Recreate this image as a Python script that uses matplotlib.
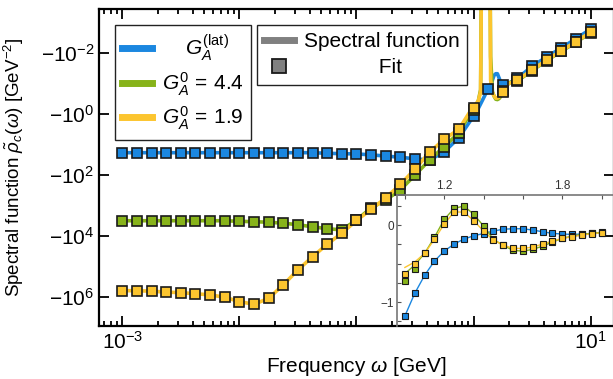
import numpy as np
import matplotlib
matplotlib.use("Agg")
import matplotlib.pyplot as plt
from matplotlib.ticker import LogLocator, NullLocator, NullFormatter
from matplotlib.lines import Line2D

plt.rcParams['font.family'] = ['Liberation Sans', 'DejaVu Sans']
plt.rcParams['mathtext.fontset'] = 'custom'
plt.rcParams['mathtext.rm'] = 'Liberation Sans'
plt.rcParams['mathtext.it'] = 'Liberation Sans:italic'
plt.rcParams['mathtext.bf'] = 'Liberation Sans:bold'

# frequency grid of the fit points (GeV), 1e-3 ... 10
omega = np.logspace(-3, 1, 33)

blue_fit = [-18.6, -18.6, -18.6, -18.6, -18.6, -18.6, -18.6, -18.6, -18.6, -18.6,
            -18.6, -18.6, -18.6, -18.6, -19.5, -20.0, -20.4, -21.9, -24.0, -26.3,
            -29.5, -32.4, -17.4, -6.0, -1.2, -0.155, -0.112, -0.068, -0.0275, -0.0135,
            -0.0069, -0.0034, -0.00166]
green_fit = [-3160, -3160, -3160, -3160, -3160, -3160, -3160, -3160, -3310, -3390,
             -3550, -3800, -4270, -5010, -5750, -6310, -3020, -1200, -661, -309,
             -100, -32.4, -11.7, -4.17, -0.727, 0.12, -0.18, -0.083, -0.038, -0.0178,
             -0.0089, -0.00447, -0.00219]
yellow_fit = [-6.2e5, -6.2e5, -6.46e5, -6.9e5, -7.2e5, -7.8e5, -8.5e5, -1.02e6, -1.41e6, -1.74e6,
              -1.10e6, -4.0e5, -1.29e5, -4.8e4, -1.86e4, -8.1e3, -3.1e3, -1.35e3, -562, -204,
              -64.6, -17.8, -6.8, -3.16, -0.646, 0.05, -0.186, -0.0776, -0.0363, -0.0170,
              -0.0085, -0.00427, -0.00209]

# resonance region (linear, inset)
omega_in = [1.00, 1.05, 1.10, 1.15, 1.20, 1.25, 1.30, 1.35, 1.40, 1.45, 1.50,
            1.55, 1.60, 1.65, 1.70, 1.75, 1.80, 1.85, 1.90, 1.95, 2.00]
blue_in = [-1.18, -0.887, -0.654, -0.468, -0.338, -0.247, -0.182, -0.139, -0.110, -0.078, -0.054,
           -0.048, -0.048, -0.065, -0.087, -0.108, -0.117, -0.121, -0.117, -0.108, -0.100]
green_in = [-0.727, -0.576, -0.368, -0.160, 0.074, 0.216, 0.247, 0.139, -0.013, -0.186, -0.264,
            -0.329, -0.338, -0.316, -0.273, -0.221, -0.173, -0.143, -0.121, -0.108, -0.095]
yellow_in = [-0.641, -0.511, -0.368, -0.186, 0.013, 0.169, 0.169, 0.056, -0.078, -0.195, -0.260,
             -0.303, -0.303, -0.286, -0.247, -0.208, -0.173, -0.152, -0.130, -0.113, -0.100]
# spectral function curves in the inset (differ from the fit at the lowest points)
green_in_line = [-0.63, -0.52] + green_in[2:]
yellow_in_line = [-0.55, -0.48] + yellow_in[2:]

BLUE = '#1b87e0'
GREEN = '#87b31a'
YELLOW = '#fcc52f'
EDGE = '#1a1a1a'

line_x = np.concatenate([omega[:24], omega_in, omega[27:]])
blue_line = np.concatenate([blue_fit[:24], blue_in, blue_fit[27:]])
green_line = np.concatenate([green_fit[:24], green_in_line, green_fit[27:]])
yellow_line = np.concatenate([yellow_fit[:24], yellow_in_line, yellow_fit[27:]])

fig = plt.figure(figsize=(6.13, 3.79), dpi=100)
ax = fig.add_axes([99 / 613, 1 - 326 / 379, 514.5 / 613, 317 / 379])

ax.plot(line_x, blue_line, color=BLUE, lw=2.6, zorder=2)
ax.plot(line_x, green_line, color=GREEN, lw=2.6, zorder=2)
ax.plot(line_x, yellow_line, color=YELLOW, lw=2.6, zorder=2)
for vals, col in [(blue_fit, BLUE), (green_fit, GREEN), (yellow_fit, YELLOW)]:
    ax.plot(omega, vals, ls='none', marker='s', ms=7, mfc=col, mec=EDGE, mew=1.2, zorder=3)

ax.set_xscale('log')
ax.set_yscale('symlog', linthresh=1e-5)
ax.set_xlim(6.32e-4, 15.7)
ax.set_ylim(-10 ** 6.95, -10 ** -3.44)

ax.set_xticks([1e-3, 1e-2, 1e-1, 1e0, 1e1])
ax.set_xticklabels(['$10^{-3}$', '', '', '', '$10^{1}$'])
ax.xaxis.set_minor_locator(LogLocator(base=10, subs=range(2, 10), numticks=30))
ax.xaxis.set_minor_formatter(NullFormatter())
ax.set_yticks([-1e-2, -1e0, -1e2, -1e4, -1e6])
ax.set_yticklabels(['$-10^{-2}$', '$-10^{0}$', '$-10^{2}$', '$-10^{4}$', '$-10^{6}$'])
ax.yaxis.set_minor_locator(NullLocator())
ax.tick_params(which='both', direction='in', top=True, right=True, labelsize=15, width=1.3)
ax.tick_params(which='major', length=7)
ax.tick_params(which='minor', length=3.5)
for s in ax.spines.values():
    s.set_linewidth(1.6)

ax.set_xlabel(r'Frequency $\omega$ [GeV]', fontsize=15, labelpad=1.5)
ax.set_ylabel(r'Spectral function $\tilde{\rho}_c(\omega)$ [GeV$^{-2}$]', fontsize=13.5)
ax.yaxis.set_label_coords(-0.142, 0.5)

h1 = [Line2D([], [], color=c, lw=5) for c in (BLUE, GREEN, YELLOW)]
leg1 = ax.legend(h1, ['    $G_A^{(\\mathrm{lat})}$', '$G_A^0\\,=\\,4.4$', '$G_A^0\\,=\\,1.9$'],
                 loc='upper left', bbox_to_anchor=(0.031, 0.95), borderaxespad=0,
                 fontsize=15, frameon=True, fancybox=False, framealpha=1,
                 edgecolor='#222222', handlelength=1.45, handletextpad=0.45,
                 labelspacing=0.35, borderpad=0.35)
leg1.get_frame().set_linewidth(1.0)
ax.add_artist(leg1)

h2 = [Line2D([], [], color='#808080', lw=5),
      Line2D([], [], ls='none', marker='s', ms=10, mfc='#808080', mec=EDGE, mew=1.3)]
leg2 = ax.legend(h2, ['Spectral function', ' ' * 13 + 'Fit'],
                 loc='upper left', bbox_to_anchor=(0.307, 0.95), borderaxespad=0,
                 fontsize=15, frameon=True, fancybox=False, framealpha=1,
                 edgecolor='#222222', handlelength=1.45, handletextpad=0.45,
                 labelspacing=0.35, borderpad=0.35)
leg2.get_frame().set_linewidth(1.0)

# inset: resonance region on a linear scale
axin = fig.add_axes([397 / 613, 1 - 326 / 379, 216.5 / 613, 131 / 379])
axin.set_facecolor('none')
axin.plot(omega_in, blue_in, color=BLUE, lw=1)
axin.plot(omega_in, green_in_line, color=GREEN, lw=1)
axin.plot(omega_in, yellow_in_line, color=YELLOW, lw=1)
for vals, col in [(blue_in, BLUE), (green_in, GREEN), (yellow_in, YELLOW)]:
    axin.plot(omega_in, vals, ls='none', marker='s', ms=3.8, mfc=col, mec=EDGE, mew=0.8)
axin.set_xlim(0.96, 2.06)
axin.set_ylim(-1.31, 0.39)
axin.xaxis.tick_top()
axin.set_xticks([1.0, 1.2, 1.4, 1.6, 1.8, 2.0])
axin.set_xticklabels(['', '1.2', '', '', '1.8', ''])
axin.set_yticks([-1.25, -1.0, -0.75, -0.5, -0.25, 0, 0.25])
axin.set_yticklabels(['', '\u22121', '', '', '', '0', ''])
axin.tick_params(direction='in', length=3, width=0.8, labelsize=8.5, colors='#555555',
                 labelcolor='#333333', pad=2)
for side in ('bottom', 'right'):
    axin.spines[side].set_visible(False)
for side in ('left', 'top'):
    axin.spines[side].set_color('#777777')
    axin.spines[side].set_linewidth(1.2)

fig.savefig('out.png', dpi=100)
